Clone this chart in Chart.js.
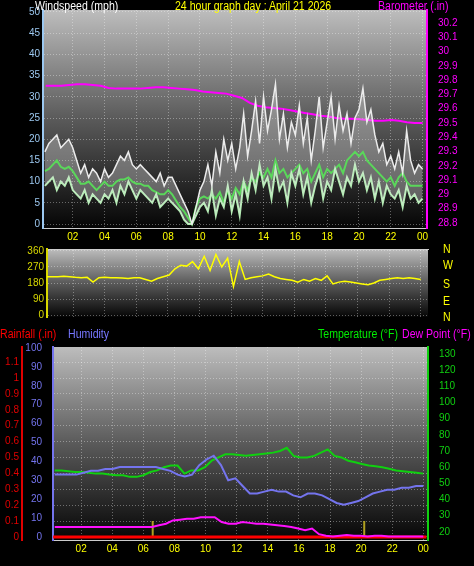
<!DOCTYPE html>
<html>
<head>
<meta charset="utf-8">
<script src="https://cdn.jsdelivr.net/npm/chart.js@4"></script>
<style>
  body { margin: 0; background: #000; width: 474px; height: 566px; overflow: hidden; position: relative; font-family: 'Liberation Sans', Arial, sans-serif; }
  canvas { position: absolute; left: 0; }
  .lbl { position: absolute; font-size: 12px; white-space: nowrap; line-height: 12px; transform: scaleX(0.88); transform-origin: left top; }
</style>
</head>
<body>
<canvas id="windChart" style="top:0"></canvas>
<canvas id="dirChart" style="top:236px"></canvas>
<canvas id="tempChart" style="top:330px"></canvas>

<div class="lbl" style="left:35px;top:0;color:#fff">Windspeed (mph)</div>
<div class="lbl" style="left:175px;top:0;color:#ff0">24 hour graph day : April 21 2026</div>
<div class="lbl" style="left:378px;top:0;color:#f0f">Barometer (.in)</div>
<div class="lbl" style="left:443px;top:243px;color:#ff0">N</div>
<div class="lbl" style="left:443px;top:259px;color:#ff0">W</div>
<div class="lbl" style="left:443px;top:278px;color:#ff0">S</div>
<div class="lbl" style="left:443px;top:295px;color:#ff0">E</div>
<div class="lbl" style="left:443px;top:311px;color:#ff0">N</div>
<div class="lbl" style="left:0;top:328px;color:#f00">Rainfall (.in)</div>
<div class="lbl" style="left:68px;top:328px;color:#77f">Humidity</div>
<div class="lbl" style="left:318px;top:328px;color:#0e0">Temperature (°F)</div>
<div class="lbl" style="left:402px;top:328px;color:#f0f">Dew Point (°F)</div>

<script>
// quarter-hour wind data, starting 0.25h
const gust = [17,19,20,21,18,19,20,18, 15,12,14,11,13,12,10,13, 11,12,14,16,15,17,14,13, 14,13,12,11,10,12,9,11,
  11,9,7,5,3,0,4,8, 10,14,9,17,12,20,15,19, 13,18,26,16,22,29,19,30, 22,27,33,20,26,18,24,21,
  28,19,25,15,22,30,18,24, 30,20,28,22,26,19,25,27, 32,24,27,21,17,19,14,16, 13,17,12,22,15,12,14,13];
const windAvg = [9,10,11,8,10,9,11,8, 7,6,8,5,7,6,5,7, 6,8,5,9,7,10,8,6, 8,7,6,5,7,4,5,6,
  5,4,3,1,0,0,2,4, 5,3,8,2,6,4,9,3, 7,2,10,6,12,8,14,9, 11,6,13,8,10,5,12,9,
  13,7,11,5,9,12,6,10, 8,13,10,7,11,9,14,10, 12,8,11,6,10,5,9,7, 6,8,4,9,6,7,5,6];
const windSmooth = [12.5,13,14,15,13.5,13,13.5,12.5, 11,9.5,9.5,10,9,8,9,10, 9,9,10,10.5,10.5,11,10,9.5, 9.5,9,9,8,7.5,7,7,8,
  7,5.5,4,3,1.5,0,4,6, 6.5,6,7,6,7.5,5,8,6, 8.5,7,10,8,11,10,12,11, 13,11,15,12,13,11,12,13,
  14,12,13,10,12,14,11,13, 12,13,14,12,15,16,17,16, 17,15,14,13,12,11,10,11, 9,11,12,10,9,9,9,9];
// evenly spaced readings across the day
const barometer = [29.76,29.76,29.76,29.765,29.77,29.77,29.765,29.76,29.745,29.74,29.74,29.74,29.74,29.745,29.75,29.75,29.745,29.74,29.735,29.73,
  29.72,29.715,29.71,29.705,29.69,29.675,29.64,29.62,29.61,29.605,29.6,29.59,29.58,29.57,29.56,29.55,29.545,29.535,29.53,29.53,
  29.525,29.52,29.515,29.515,29.52,29.515,29.505,29.5,29.5];
const windDir = [215,215,215,218,215,212,210,212,185,210,212,210,210,208,205,210,210,200,190,205,
  215,225,260,280,275,300,260,330,250,340,270,320,160,300,200,210,215,220,230,215,
  205,200,195,185,200,190,205,195,220,175,185,190,185,180,175,170,180,195,200,205,
  210,205,210,205,200];
const humidity = [33,33,33,33,34,35,35,36,36,37,37,37,37,37,37,36,35,33,32,33,38,41,43,38,30,31,27,23,
  23,24,25,24,24,22,21,23,23,22,20,18,17,18,19,21,23,24,25,25,26,26,27,27];
const temperature = [58,58,57.5,57,57,56.5,56,56,55.5,55,55,54,54,55,57,58,60,61,61,56,58,58,60,64,66,68,68,67.5,
  67,67.5,68,68.5,69,70,72,67,66,66,67,69,71,67,66,64,63,62,61,60.5,60,59,58,57.5,57,56.5,56];
const dewPoint = [23,23,23,23,23,23,23,23,23,23,23,23,23,23,23,24,25,27,27.5,28,28,29,29,29,26,25,25,26,
  25.5,25,25,24.5,24,23.5,23,22,21,22,18.5,17.5,17,17.5,18,17.5,17.5,17,17.5,17.5,17,17,17,17,17,17];
const rainfall = [0,0];
const rainMarks = [6.6, 20.2];
const hourTicks = [2,4,6,8,10,12,14,16,18,20,22,24];

const qh = (arr) => arr.map((v, i) => ({ x: 0.25 + i * 0.25, y: v }));
const spread = (arr) => arr.map((v, i) => ({ x: 0.3 + i * (23.7 / (arr.length - 1)), y: v }));

const bgPlugin = {
  id: 'bg',
  beforeDraw(chart) {
    const a = chart.chartArea, c = chart.ctx;
    const g = c.createLinearGradient(0, a.top, 0, a.bottom);
    g.addColorStop(0, '#bdbdbd');
    g.addColorStop(0.5, '#5a5a5a');
    g.addColorStop(1, '#050505');
    c.save();
    c.fillStyle = g;
    c.fillRect(a.left, a.top, a.right - a.left, a.bottom - a.top);
    c.restore();
  }
};

const tickFont = { family: "'Liberation Sans', Arial, sans-serif", size: 10 };
const gridDots = { color: 'rgba(255,255,255,0.35)', lineWidth: 1, drawTicks: false };
const hourLabel = (v) => v === 24 ? '00' : String(v).padStart(2, '0');

function xAxis(min, max, pos, height, showLabels) {
  return {
    type: 'linear', position: pos, min: min, max: max,
    afterBuildTicks: s => { s.ticks = hourTicks.map(v => ({ value: v })); },
    afterFit: s => { s.height = height; },
    ticks: { display: showLabels, color: '#ff0', font: tickFont, callback: hourLabel, padding: 3, maxRotation: 0 },
    grid: { ...gridDots },
    border: { color: '#ccc', dash: [1, 2] }
  };
}
function yAxis(pos, min, max, vals, color, width, fmt, grid) {
  return {
    type: 'linear', position: pos, min: min, max: max,
    afterBuildTicks: s => { s.ticks = vals.map(v => ({ value: v })); },
    afterFit: s => { s.width = width; },
    ticks: { color: color, font: tickFont, padding: 3, callback: fmt || (v => String(Math.round(v * 10) / 10)) },
    grid: grid ? { ...gridDots } : { display: false },
    border: { color: color, width: 2, dash: grid ? [1, 2] : [] }
  };
}
const seq = (a, b, st) => { const r = []; for (let v = a; v <= b + 1e-9; v += st) r.push(Math.round(v * 100) / 100); return r; };

const commonOpts = {
  responsive: false, animation: false,
  plugins: { legend: { display: false }, tooltip: { enabled: false } },
  elements: { point: { radius: 0 }, line: { tension: 0 } }
};

// windspeed + barometer
const c1 = document.getElementById('windChart');
c1.width = 474; c1.height = 248;
new Chart(c1.getContext('2d'), {
  type: 'line',
  data: { datasets: [
    { data: qh(gust), borderColor: '#ececec', borderWidth: 1.5, fill: '+1', backgroundColor: 'rgba(230,230,230,0.35)', yAxisID: 'y' },
    { data: qh(windAvg), borderColor: '#b5edb5', borderWidth: 2, yAxisID: 'y' },
    { data: qh(windSmooth), borderColor: '#10d010', borderWidth: 2, yAxisID: 'y' },
    { data: spread(barometer), borderColor: '#ff00ff', borderWidth: 2, yAxisID: 'y2' }
  ] },
  options: { ...commonOpts,
    layout: { padding: { top: 10, left: 0, right: 0, bottom: 0 } },
    scales: {
      x: xAxis(0.13, 24.28, 'bottom', 20, true),
      y: yAxis('left', -0.94, 50.47, seq(0, 50, 5), '#9cc8f0', 43, null, true),
      y2: yAxis('right', 28.765, 30.29, seq(28.8, 30.2, 0.1), '#ff00ff', 47, v => String(Math.round(v * 10) / 10), false)
    }
  },
  plugins: [bgPlugin]
});

// wind direction
const c2 = document.getElementById('dirChart');
c2.width = 474; c2.height = 90;
new Chart(c2.getContext('2d'), {
  type: 'line',
  data: { datasets: [
    { data: spread(windDir), borderColor: '#ffff00', borderWidth: 1.5, yAxisID: 'y' }
  ] },
  options: { ...commonOpts,
    layout: { padding: { top: 0, bottom: 8, left: 0, right: 46 } },
    scales: {
      x: xAxis(0.35, 24.46, 'top', 13, false),
      y: yAxis('left', -11, 371, [0, 90, 180, 270, 360], '#d8d800', 47, null, true)
    }
  },
  plugins: [bgPlugin]
});

// temperature / humidity / rain
const c3 = document.getElementById('tempChart');
c3.width = 474; c3.height = 236;
const rainBars = [];
rainMarks.forEach(h => { rainBars.push({ x: h, y: 0 }, { x: h, y: 0.1 }, { x: h, y: null }); });
new Chart(c3.getContext('2d'), {
  type: 'line',
  data: { datasets: [
    { data: spread(humidity), borderColor: '#7474ee', borderWidth: 2, yAxisID: 'yh' },
    { data: spread(temperature), borderColor: '#10d010', borderWidth: 2, yAxisID: 'yt' },
    { data: spread(dewPoint), borderColor: '#ff10ff', borderWidth: 2, yAxisID: 'yt' },
    { data: [{ x: 0.2, y: rainfall[0] }, { x: 24.2, y: rainfall[1] }], borderColor: '#ff0000', borderWidth: 3, yAxisID: 'yr' },
    { data: rainBars, borderColor: '#b0a020', borderWidth: 2, spanGaps: false, yAxisID: 'yr' }
  ] },
  options: { ...commonOpts,
    layout: { padding: { top: 17, bottom: 0, left: 0, right: 0 } },
    scales: {
      x: xAxis(0.19, 24.3, 'bottom', 26, true),
      yh: yAxis('left', -1.6, 100.5, seq(0, 100, 10), '#7474ee', 31, null, false),
      yr: yAxis('left', -0.019, 1.195, seq(0, 1.1, 0.1), '#e00000', 22, v => String(Math.round(v * 10) / 10), true),
      yt: yAxis('right', 14.9, 134.4, seq(20, 130, 10), '#10d010', 46, null, false)
    }
  },
  plugins: [bgPlugin]
});
</script>
</body>
</html>
